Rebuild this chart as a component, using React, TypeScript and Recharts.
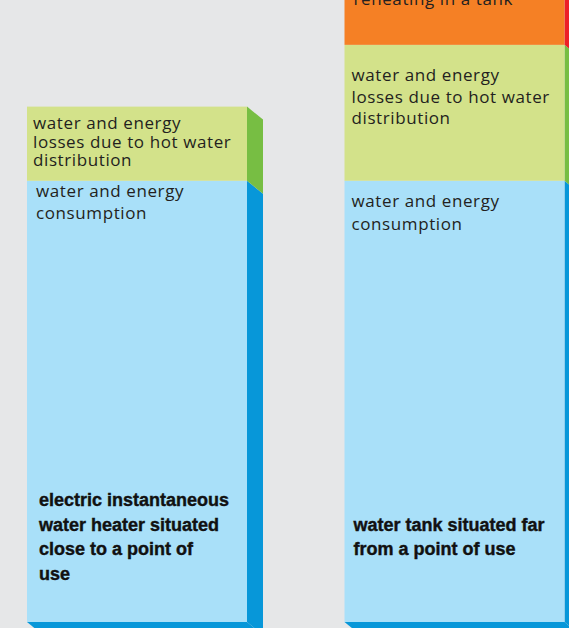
import { BarChart, Bar, XAxis, YAxis } from "recharts"

// heater types (one bar each), wrapped the way the original prints them
const categories = [
    "electric instantaneous water heater situated close to a point of use",
    "water tank situated far from a point of use",
]
const categoryLines = [
    ["electric instantaneous", "water heater situated", "close to a point of", "use"],
    ["water tank situated far", "from a point of use"],
]

// relative amounts of water and energy, consumption = 100
const consumption = [100, 100]
const distributionLosses = [16.8, 30.8]
const reheatingLosses = [0, 27]

const consumptionText = ["water and energy", "consumption"]
const distributionText = ["water and energy", "losses due to hot water", "distribution"]
const reheatingText = ["water and energy", "losses due to", "reheating in a tank"]

const data = categories.map((name, i) => ({
    name,
    consumption: consumption[i],
    distribution: distributionLosses[i],
    reheating: reheatingLosses[i],
}))

const DX = 16
const DY = 13
const TEXT = "#231f20"

// per series: front/side colour, text lines, and per bar [xPad, firstBaseline, leading]
const SERIES = [
    { key: "consumption", front: "#a9e0f9", side: "#0797d9", lines: consumptionText, pad: [[9, 16.5, 22], [7, 26.5, 22.5]] },
    { key: "distribution", front: "#d3e28a", side: "#77be43", lines: distributionText, pad: [[6, 22.5, 18.5], [7, 36.5, 21.5]] },
    { key: "reheating", front: "#f58025", side: "#ec2028", lines: reheatingText, pad: [[8, 36.5, 21.5], [9, 36.5, 21.5]] },
]

const CAT_PAD = [12, 9]

function makeBlock(si: number) {
    const s = SERIES[si]
    return (props: any) => {
        const { x, y, width, height, index } = props
        if (!height || height <= 0) return <g />
        const r = x + width
        const b = y + height
        const [px, first, lead] = s.pad[index]
        return (
            <g>
                {si === 0 && (
                    <polygon points={`${x},${b} ${r},${b} ${r + DX},${b + DY} ${x + DX},${b + DY}`} fill={s.side} />
                )}
                <polygon points={`${r},${y} ${r + DX},${y + DY} ${r + DX},${b + DY} ${r},${b}`} fill={s.side} />
                <rect x={x} y={y} width={width} height={height} fill={s.front} />
                {s.lines.map((t, k) => (
                    <text key={k} x={x + px} y={y + first + k * lead} fontSize={17} letterSpacing={0.6} fill={TEXT}
                        fontFamily="'Open Sans', 'Noto Sans', sans-serif">{t}</text>
                ))}
                {si === 0 && categoryLines[index].map((t, k, arr) => (
                    <text key={"c" + k} x={x + CAT_PAD[index]} y={b - 84 - ((arr.length - 1) / 2) * 24.7 + k * 24.7 + 5}
                        fontSize={18} fontWeight={700} fill="#111" stroke="#111" strokeWidth={0.4}
                        fontFamily="'Liberation Sans', Arial, sans-serif">{t}</text>
                ))}
            </g>
        )
    }
}

export default function App() {
    return (
        <div style={{ position: "fixed", left: 0, top: 0, width: 569, height: 628, overflow: "hidden", background: "#e6e7e8" }}>
            <div style={{ position: "absolute", left: -22, top: -84 }}>
                <BarChart width={640} height={726} data={data} margin={{ top: 0, right: 5, bottom: 20, left: 0 }} barSize={220}>
                    <XAxis dataKey="name" hide />
                    <YAxis hide domain={[0, 160]} />
                    {SERIES.map((s, i) => (
                        <Bar key={s.key} dataKey={s.key} stackId="a" fill={s.front} shape={makeBlock(i)} isAnimationActive={false} />
                    ))}
                </BarChart>
            </div>
        </div>
    )
}
